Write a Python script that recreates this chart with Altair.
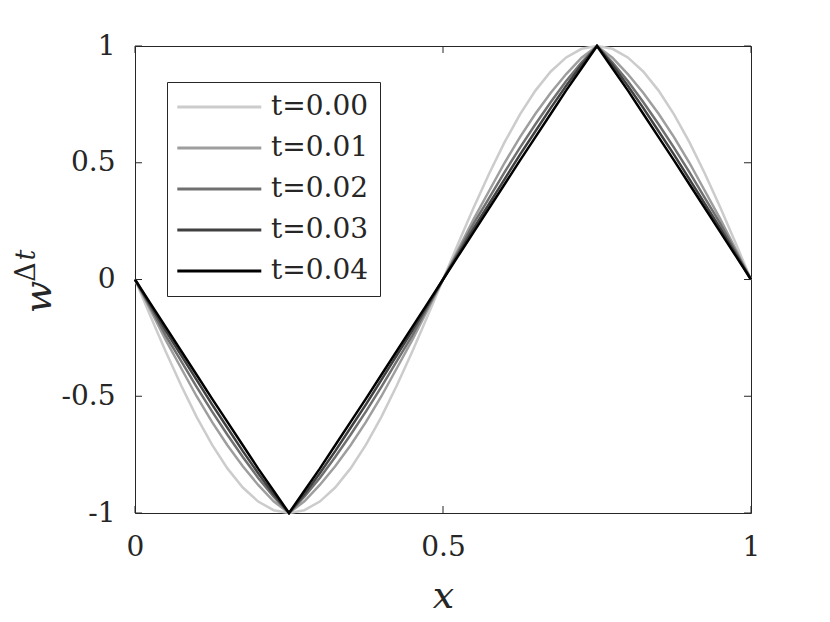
import altair as alt
import pandas as pd

# sample positions along x
x_vals = [0.000, 0.025, 0.050, 0.075, 0.100, 0.125, 0.150, 0.175, 0.200, 0.225,
          0.250, 0.275, 0.300, 0.325, 0.350, 0.375, 0.400, 0.425, 0.450, 0.475,
          0.500, 0.525, 0.550, 0.575, 0.600, 0.625, 0.650, 0.675, 0.700, 0.725,
          0.750, 0.775, 0.800, 0.825, 0.850, 0.875, 0.900, 0.925, 0.950, 0.975,
          1.000]

# values, one list per time level
w_t000 = [0, -0.156, -0.309, -0.454, -0.588, -0.707, -0.809, -0.891, -0.951, -0.988,
          -1, -0.988, -0.951, -0.891, -0.809, -0.707, -0.588, -0.454, -0.309, -0.156,
          0, 0.156, 0.309, 0.454, 0.588, 0.707, 0.809, 0.891, 0.951, 0.988,
          1, 0.988, 0.951, 0.891, 0.809, 0.707, 0.588, 0.454, 0.309, 0.156,
          0]
w_t001 = [0, -0.13, -0.26, -0.38, -0.50, -0.61, -0.71, -0.80, -0.88, -0.95,
          -1, -0.95, -0.88, -0.80, -0.71, -0.61, -0.50, -0.38, -0.26, -0.13,
          0, 0.13, 0.26, 0.38, 0.50, 0.61, 0.71, 0.80, 0.88, 0.95,
          1, 0.95, 0.88, 0.80, 0.71, 0.61, 0.50, 0.38, 0.26, 0.13,
          0]
w_t002 = [0, -0.12, -0.24, -0.35, -0.46, -0.565, -0.665, -0.76, -0.85, -0.93,
          -1, -0.93, -0.85, -0.76, -0.665, -0.565, -0.46, -0.35, -0.24, -0.12,
          0, 0.12, 0.24, 0.35, 0.46, 0.565, 0.665, 0.76, 0.85, 0.93,
          1, 0.93, 0.85, 0.76, 0.665, 0.565, 0.46, 0.35, 0.24, 0.12,
          0]
w_t003 = [0, -0.11, -0.22, -0.325, -0.43, -0.535, -0.635, -0.735, -0.83, -0.92,
          -1, -0.92, -0.83, -0.735, -0.635, -0.535, -0.43, -0.325, -0.22, -0.11,
          0, 0.11, 0.22, 0.325, 0.43, 0.535, 0.635, 0.735, 0.83, 0.92,
          1, 0.92, 0.83, 0.735, 0.635, 0.535, 0.43, 0.325, 0.22, 0.11,
          0]
w_t004 = [0, -0.102, -0.204, -0.306, -0.408, -0.51, -0.61, -0.71, -0.81, -0.905,
          -1, -0.905, -0.81, -0.71, -0.61, -0.51, -0.408, -0.306, -0.204, -0.102,
          0, 0.102, 0.204, 0.306, 0.408, 0.51, 0.61, 0.71, 0.81, 0.905,
          1, 0.905, 0.81, 0.71, 0.61, 0.51, 0.408, 0.306, 0.204, 0.102,
          0]

series_labels = ["t=0.00", "t=0.01", "t=0.02", "t=0.03", "t=0.04"]
series_values = [w_t000, w_t001, w_t002, w_t003, w_t004]
series_colors = ["#cccccc", "#9e9e9e", "#707070", "#404040", "#000000"]

x_ticks = [0, 0.5, 1]
y_ticks = [-1, -0.5, 0, 0.5, 1]

rows = []
for i, (lab, vals) in enumerate(zip(series_labels, series_values)):
    for xv, wv in zip(x_vals, vals):
        rows.append({"x": xv, "w": wv, "t": lab, "k": i})
df = pd.DataFrame(rows)

W, H = 616, 467
FONT = "DejaVu Serif"
INK = "#262626"

xscale = alt.Scale(domain=[0, 1], nice=False, zero=False)
yscale = alt.Scale(domain=[-1, 1], nice=False, zero=False)

lines = alt.Chart(df).mark_line(strokeWidth=2.5).encode(
    x=alt.X("x:Q", scale=xscale,
            axis=alt.Axis(values=x_ticks, title="x", labelExpr="'' + datum.value",
                          labelFlush=False,
                          titleFont=FONT, titleFontStyle="italic", titleFontWeight="normal",
                          titleFontSize=38, titleColor=INK, titleY=94,
                          titleBaseline="alphabetic")),
    y=alt.Y("w:Q", scale=yscale,
            axis=alt.Axis(values=y_ticks, title=None, labelExpr="'' + datum.value",
                          labelFlush=False)),
    color=alt.Color("t:N", scale=alt.Scale(domain=series_labels, range=series_colors),
                    legend=alt.Legend(title=None, orient="none", legendX=32, legendY=36,
                                      symbolType="M-1.4,0H6.6", symbolSize=441,
                                      symbolStrokeWidth=3, labelFont=FONT,
                                      labelFontSize=28, labelColor=INK, labelOffset=65,
                                      rowPadding=13, padding=11, strokeColor=INK,
                                      fillColor="white", cornerRadius=0)),
    order=alt.Order("k:Q"),
)

xt = pd.DataFrame({"x": x_ticks})
yt = pd.DataFrame({"w": y_ticks})
tick_bottom = alt.Chart(xt).mark_rule(color=INK, strokeWidth=1).encode(
    x="x:Q", y=alt.value(H), y2=alt.value(H - 7))
tick_top = alt.Chart(xt).mark_rule(color=INK, strokeWidth=1).encode(
    x="x:Q", y=alt.value(0), y2=alt.value(7))
tick_left = alt.Chart(yt).mark_rule(color=INK, strokeWidth=1).encode(
    y="w:Q", x=alt.value(0), x2=alt.value(7))
tick_right = alt.Chart(yt).mark_rule(color=INK, strokeWidth=1).encode(
    y="w:Q", x=alt.value(W), x2=alt.value(W - 7))

ylab_w = alt.Chart(pd.DataFrame({"s": ["w"]})).mark_text(
    font=FONT, fontStyle="italic", fontSize=38, angle=270, align="center",
    baseline="alphabetic", color=INK).encode(
    text="s:N", x=alt.value(-84), y=alt.value(251))
ylab_d = alt.Chart(pd.DataFrame({"s": ["Δ"]})).mark_text(
    font=FONT, fontSize=27, angle=270, align="center",
    baseline="alphabetic", color=INK).encode(
    text="s:N", x=alt.value(-100), y=alt.value(226))
ylab_t = alt.Chart(pd.DataFrame({"s": ["t"]})).mark_text(
    font=FONT, fontStyle="italic", fontSize=27, angle=270, align="center",
    baseline="alphabetic", color=INK).encode(
    text="s:N", x=alt.value(-100), y=alt.value(209))

chart = alt.layer(lines, tick_bottom, tick_top, tick_left, tick_right,
                  ylab_w, ylab_d, ylab_t).properties(
    width=W, height=H,
    autosize=alt.AutoSizeParams(type="none"),
    padding={"left": 127, "top": 38, "right": 60, "bottom": 105},
    background="white",
).configure_view(
    stroke=INK, strokeWidth=1
).configure_axis(
    domain=False, ticks=False, grid=False,
    labelFont=FONT, labelFontSize=28, labelColor=INK, labelPadding=20,
)

chart.save("out.html", embed_options={"renderer": "svg", "actions": False})
